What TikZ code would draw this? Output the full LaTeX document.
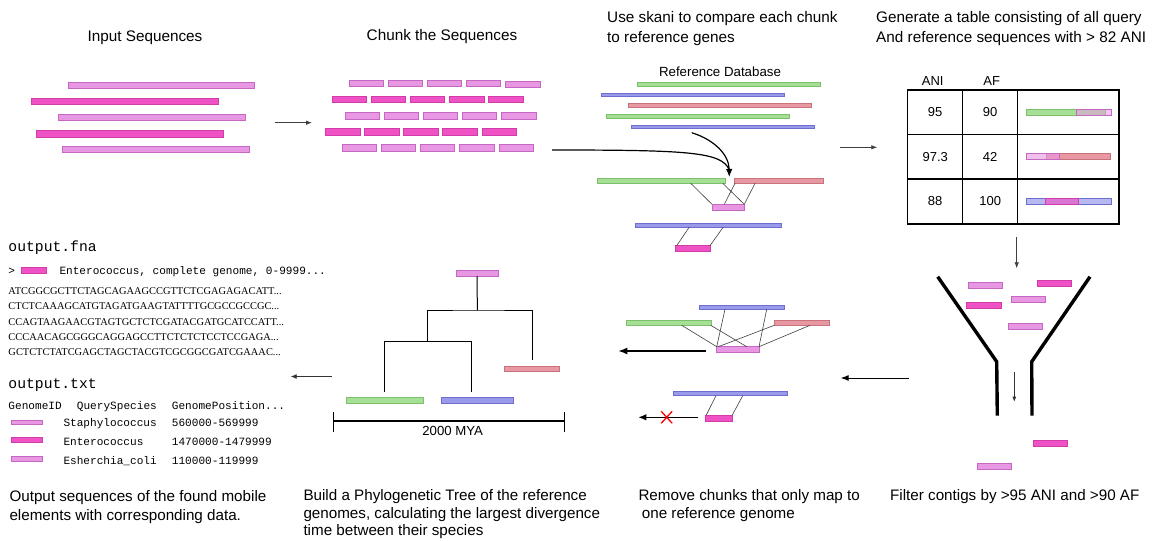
\documentclass[tikz,border=0pt]{standalone}
\usepackage{fontspec}
\setmainfont{Liberation Sans}
\setmonofont{Liberation Mono}
\newfontfamily\dnafont{Liberation Serif}
\usetikzlibrary{arrows.meta,calc}

\definecolor{lpf}{HTML}{E898E2}
\definecolor{lpd}{HTML}{C468C4}
\definecolor{hpf}{HTML}{EE52C4}
\definecolor{hpd}{HTML}{D23CA8}
\definecolor{grf}{HTML}{A6E096}
\definecolor{grd}{HTML}{7CC06C}
\definecolor{blf}{HTML}{9A9AEA}
\definecolor{bld}{HTML}{6E6ED0}
\definecolor{rdf}{HTML}{E898A2}
\definecolor{rdd}{HTML}{C8727C}

% name, style, x1, y1, x2, y2
\newcommand\mkbar[6]{\node[#2, minimum width={#5-#3}, minimum height={#6-#4}] (#1) at ({(#3+#5)/2},{(#4+#6)/2}) {};}

\tikzset{
  barbase/.style={rectangle, draw, inner sep=0pt, outer sep=0pt, line width=0.7pt},
  lp/.style={barbase, fill=lpf, draw=lpd},
  hp/.style={barbase, fill=hpf, draw=hpd},
  gr/.style={barbase, fill=grf, draw=grd},
  bl/.style={barbase, fill=blf, draw=bld},
  rd/.style={barbase, fill=rdf, draw=rdd},
  link/.style={draw=black!75, line width=0.6pt},
  thinarrow/.style={draw=black!75, line width=0.8pt, -{Latex[length=6pt,width=4.5pt]}},
  boldarrow/.style={draw=black, line width=1.4pt, -{Latex[length=9pt,width=7pt]}},
  tree/.style={draw=black, line width=1pt},
  title/.style={font=\fontsize{15.3}{18}\selectfont, inner sep=0pt, anchor=base west},
  caption/.style={font=\fontsize{15.2}{18}\selectfont, inner sep=0pt, anchor=base west},
  cell/.style={font=\fontsize{13}{15}\selectfont, inner sep=0pt},
  mono/.style={font=\ttfamily\fontsize{11.1}{13}\selectfont, inner sep=0pt, anchor=base west},
  bigmono/.style={font=\ttfamily\fontsize{14.7}{17}\selectfont, inner sep=0pt, anchor=base west},
  dna/.style={font=\dnafont\fontsize{10.4}{12}\selectfont, inner sep=0pt, anchor=base west},
}

\begin{document}
\begin{tikzpicture}[x=1pt, y=-1pt]
\fill[white] (0,0) rectangle (1152,541);
\useasboundingbox (0,0) rectangle (1152,541);

% ---------- Titles ----------
\node[title, anchor=base] (t1) at (145,41.5) {Input Sequences};
\node[title, anchor=base] (t2) at (442,40.5) {Chunk the Sequences};
\node[title] (t3a) at (607,22.5) {Use skani to compare each chunk};
\node[title] (t3b) at (607,42.5) {to reference genes};
\node[title] (t4a) at (876,22.5) {Generate a table consisting of all query};
\node[title] (t4b) at (876,42.5) {And reference sequences with > 82 ANI};

% ---------- Input sequences ----------
\mkbar{in1}{lp}{68}{82.7}{254}{88}
\mkbar{in2}{hp}{31}{98.3}{218}{104}
\mkbar{in3}{lp}{58}{114.3}{245}{120.7}
\mkbar{in4}{hp}{36}{130.7}{223}{137}
\mkbar{in5}{lp}{62}{146.3}{249}{152.7}

\coordinate (a1s) at (275,122.7);
\coordinate (a1e) at (312,122.7);
\draw[thinarrow] (a1s) -- (a1e);

% ---------- Chunks ----------
\foreach \x [count=\i] in {349.3,388,427.3,466.3} {\mkbar{cA\i}{lp}{\x}{80.7}{\x+34.3}{86.7}}
\mkbar{cA5}{lp}{505.7}{81.3}{540}{87.3}
\foreach \x [count=\i] in {332,371,410.3,449.7,488.7} {\mkbar{cB\i}{hp}{\x}{96}{\x+34.5}{102.7}}
\foreach \x [count=\i] in {345.3,384.3,423.3,462.3,501.7} {\mkbar{cC\i}{lp}{\x}{112.3}{\x+34.5}{119}}
\foreach \x [count=\i] in {325.3,364.3,403.7,442.7,482} {\mkbar{cD\i}{hp}{\x}{128.7}{\x+34.6}{135.3}}
\foreach \x [count=\i] in {342,381.3,420.3,459.7,499} {\mkbar{cE\i}{lp}{\x}{144.3}{\x+34.5}{151}}

% ---------- Reference database ----------
\node[font=\fontsize{13.3}{15}\selectfont, inner sep=0pt, anchor=base] (refdb) at (720,76.8) {Reference Database};
\mkbar{r1}{gr}{637.3}{82.7}{820.7}{86.5}
\mkbar{r2}{bl}{601.3}{93}{784.3}{96.8}
\mkbar{r3}{rd}{628}{103.7}{811}{107.5}
\mkbar{r4}{gr}{606}{114.7}{789}{118.5}
\mkbar{r5}{bl}{631.7}{125}{814.7}{128.8}

\coordinate (cs1) at (552,150);
\coordinate (cs2) at (691.7,132.7);
\coordinate (ctip) at (729.3,177);
\draw[draw=black, line width=1.2pt] (cs1) .. controls (690,150) and (722,152) .. (729.3,170);
\draw[draw=black, line width=1.2pt, -{Latex[length=8pt,width=6.5pt]}] (cs2) .. controls (715,140) and (729,155) .. (ctip);

\mkbar{m1g}{gr}{597.3}{178.7}{725.7}{183.3}
\mkbar{m1r}{rd}{734.3}{178.7}{823.7}{183.3}
\mkbar{m1c}{lp}{712}{204.3}{744.3}{210.3}
\draw[link] ($(m1g.south west)+(93.4,0)$) -- (m1c.north west);
\draw[link] ($(m1g.south west)+(125.4,0)$) -- (m1c.north east);
\draw[link] ($(m1r.south west)+(0.7,0)$) -- ($(m1c.north west)+(12.3,0)$);
\draw[link] ($(m1r.south west)+(20.7,0)$) -- (m1c.north east);

\mkbar{m2b}{bl}{635}{223}{781}{227}
\mkbar{m2c}{hp}{675.7}{245.7}{710}{251.3}
\draw[link] ($(m2b.south west)+(54.3,0)$) -- ($(m2c.north west)+(1,0)$);
\draw[link] ($(m2b.south west)+(88.3,0)$) -- (m2c.north east);

% ---------- Table ----------
\coordinate (a2s) at (840,147.3);
\coordinate (a2e) at (877.3,147.3);
\draw[thinarrow] (a2s) -- (a2e);

\node[cell, anchor=center] (hANI) at (932.7,80.7) {ANI};
\node[cell, anchor=center] (hAF) at (991.7,80.7) {AF};
\draw[line width=1.4pt] (907.7,90) rectangle (1119,224);
\draw[line width=1.4pt] (962.7,90) -- (962.7,224) (1017.7,90) -- (1017.7,224)
  (907.7,134.7) -- (1119,134.7) (907.7,179) -- (1119,179);
\node[cell] (v11) at (935.2,112.3) {95};
\node[cell] (v12) at (990.2,112.3) {90};
\node[cell] (v21) at (935.2,156.9) {97.3};
\node[cell] (v22) at (990.2,156.9) {42};
\node[cell] (v31) at (935.2,201.5) {88};
\node[cell] (v32) at (990.2,201.5) {100};

\mkbar{tb1g}{gr}{1026}{109.3}{1105.7}{115.3}
\mkbar{tb1p}{lp, fill opacity=0.55}{1076.7}{109.3}{1111.7}{115.3}
\mkbar{tb2r}{rd}{1046.7}{153.7}{1110.7}{159.3}
\mkbar{tb2p}{lp, fill opacity=0.6}{1026.7}{153.7}{1059.3}{159.3}
\mkbar{tb3b}{bl, fill=blf!70}{1026}{198}{1111}{204.3}
\mkbar{tb3p}{hp, fill opacity=0.65}{1045}{198}{1078.7}{204.3}

\coordinate (a3s) at (1016.7,237);
\coordinate (a3e) at (1016.7,268.3);
\draw[thinarrow] (a3s) -- (a3e);

% ---------- Funnel ----------
\draw[line width=3.4pt] (937.7,276.7) -- (996.7,361.7) -- (997.3,415.7);
\draw[line width=3.4pt] (1090,276.7) -- (1031.7,361.7) -- (1032,415.7);
\mkbar{f1}{lp}{968.3}{282.3}{1002.7}{288.3}
\mkbar{f2}{hp}{1037}{280.3}{1071.3}{286.3}
\mkbar{f3}{hp}{966.7}{302.3}{1001}{308.3}
\mkbar{f4}{lp}{1011.3}{296.7}{1045.7}{302.7}
\mkbar{f5}{lp}{1008.3}{323.3}{1042.7}{329.3}
\coordinate (a4s) at (1014.3,372.3);
\coordinate (a4e) at (1014.3,401.7);
\draw[draw=black!80, line width=0.7pt, -{Latex[length=5pt,width=4pt]}] (a4s) -- (a4e);
\mkbar{f6}{hp}{1033.3}{440.3}{1067.7}{446.3}
\mkbar{f7}{lp}{977.3}{463.3}{1011.7}{469.3}

\coordinate (a5s) at (909,378);
\coordinate (a5e) at (840.7,378);
\draw[draw=black, line width=1pt, -{Latex[length=8pt,width=6pt]}] (a5s) -- (a5e);

% ---------- Remove chunks ----------
\mkbar{s1b}{bl}{699.3}{305.3}{784.7}{309.3}
\mkbar{s1g}{gr}{626.7}{320.7}{711.7}{325.3}
\mkbar{s1r}{rd}{774.3}{320.7}{829.7}{325.3}
\mkbar{s1c}{lp}{716}{346.7}{759}{352.7}
\draw[link] ($(s1g.south west)+(55,0)$) -- ($(s1c.north west)+(0.7,0)$);
\draw[link] ($(s1g.south west)+(84,0)$) -- ($(s1c.north west)+(30.7,0)$);
\draw[link] ($(s1b.south west)+(25.7,0)$) -- ($(s1c.north west)+(0.7,0)$);
\draw[link] ($(s1b.south west)+(67.4,0)$) -- (s1c.north east);
\draw[link] (s1r.south west) -- ($(s1c.north west)+(2.3,0)$);
\draw[link] ($(s1r.south west)+(35.7,0)$) -- (s1c.north east);

\coordinate (a6s) at (706,351);
\coordinate (a6e) at (618.3,351);
\draw[boldarrow] (a6s) -- (a6e);

\mkbar{s2b}{bl}{673.3}{391.7}{787.7}{395.7}
\mkbar{s2c}{hp}{705.3}{415}{732.3}{421}
\draw[link] ($(s2b.south west)+(42.7,0)$) -- ($(s2c.north west)+(1,0)$);
\draw[link] ($(s2b.south west)+(69.4,0)$) -- (s2c.north east);

\coordinate (a7s) at (698.3,417.3);
\coordinate (a7e) at (638.3,417.3);
\draw[draw=black, line width=1.2pt, -{Latex[length=8pt,width=6.5pt]}] (a7s) -- (a7e);
\coordinate (xc) at (666.7,417.3);
\draw[red, line width=1.3pt] ($(xc)+(-5.5,-6)$) -- ($(xc)+(5.5,6)$) ($(xc)+(-5.5,6)$) -- ($(xc)+(5.5,-6)$);

% ---------- Tree ----------
\mkbar{tT}{lp}{456}{270}{498.3}{276}
\mkbar{tR}{rd}{504.3}{366}{559.7}{371.3}
\mkbar{tG}{gr}{346.3}{397.7}{423.7}{403.3}
\mkbar{tB}{bl}{441}{397.7}{513}{403.3}
\coordinate (n1) at (477.3,310);
\coordinate (n2) at (427.7,341.7);
\draw[tree] (tT.south) -- (n1);
\draw[tree] (n2) |- (n1) -| ([yshift=6pt]tR.north);
\draw[tree] ([xshift=-0.7pt,yshift=5.4pt]tG.north) |- (n2) -| ([xshift=-5.3pt,yshift=5.4pt]tB.north);
\coordinate (sbL) at (333.3,421);
\coordinate (sbR) at (564,421);
\draw[line width=1.2pt] (sbL) -- (sbR);
\draw[line width=1pt] ($(sbL)+(0,-9.3)$) -- ($(sbL)+(0,10.7)$) ($(sbR)+(0,-9.3)$) -- ($(sbR)+(0,10.7)$);
\node[font=\fontsize{13.2}{15}\selectfont, inner sep=0pt, anchor=base] (mya) at (452.7,435) {2000 MYA};

\coordinate (a8s) at (331.7,376.5);
\coordinate (a8e) at (290.7,376.5);
\draw[draw=black!80, line width=0.9pt, -{Latex[length=6pt,width=5pt]}] (a8s) -- (a8e);

% ---------- Output ----------
\node[bigmono] (ofna) at (8.3,251.5) {output.fna};
\node[mono] (gt) at (8.3,274) {>};
\mkbar{ob}{hp}{21.7}{267.3}{46.7}{273}
\node[mono] (ohead) at (59.3,274) {Enterococcus, complete genome, 0-9999...};
\node[dna] (d1) at (8.3,294.6) {ATCGGCGCTTCTAGCAGAAGCCGTTCTCGAGAGACATT...};
\node[dna] (d2) at (8.3,309.6) {CTCTCAAAGCATGTAGATGAAGTATTTTGCGCCGCCGC...};
\node[dna] (d3) at (8.3,325.2) {CCAGTAAGAACGTAGTGCTCTCGATACGATGCATCCATT...};
\node[dna] (d4) at (8.3,340.2) {CCCAACAGCGGGCAGGAGCCTTCTCTCTCCTCCGAGA...};
\node[dna] (d5) at (8.3,355.2) {GCTCTCTATCGAGCTAGCTACGTCGCGGCGATCGAAAC...};

\node[bigmono] (otxt) at (8.3,388) {output.txt};
\node[mono] (hgid) at (8.3,409) {GenomeID};
\node[mono] (hqs) at (76.7,409) {QuerySpecies};
\node[mono] (hpos) at (171.7,409) {GenomePosition...};
\mkbar{ob1}{lp}{11.7}{420}{42.7}{424.3}
\node[mono] (q1) at (63.3,426) {Staphylococcus};
\node[mono] (p1) at (171.7,426) {560000-569999};
\mkbar{ob2}{hp}{11.7}{437.7}{42.7}{442.3}
\node[mono] (q2) at (63.3,445) {Enterococcus};
\node[mono] (p2) at (171.7,445) {1470000-1479999};
\mkbar{ob3}{lp}{11.7}{456.7}{42.7}{461.7}
\node[mono] (q3) at (63.3,464) {Esherchia\_coli};
\node[mono] (p3) at (171.7,464) {110000-119999};

% ---------- Captions ----------
\node[caption] (c1a) at (9.3,501.5) {Output sequences of the found mobile};
\node[caption] (c1b) at (9.3,520) {elements with corresponding data.};
\node[caption] (c2a) at (303.3,500.5) {Build a Phylogenetic Tree of the reference};
\node[caption] (c2b) at (303.3,518) {genomes, calculating the largest divergence};
\node[caption] (c2c) at (303.3,535.5) {time between their species};
\node[caption] (c3a) at (638.3,500.5) {Remove chunks that only map to};
\node[caption] (c3b) at (641.7,518.5) {one reference genome};
\node[caption] (c4a) at (890,500.5) {Filter contigs by >95 ANI and >90 AF};
\end{tikzpicture}
\end{document}
